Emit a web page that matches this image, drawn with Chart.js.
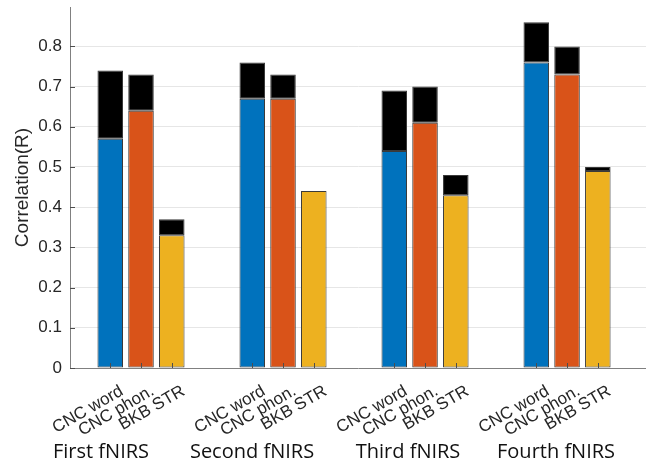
<!DOCTYPE html>
<html>
<head>
<meta charset="utf-8">
<script src="https://cdn.jsdelivr.net/npm/chart.js@4.4.1/dist/chart.umd.min.js"></script>
<style>
  html, body { margin: 0; padding: 0; background: #fff; }
  #wrap { width: 646px; height: 465px; }
</style>
</head>
<body>
<div id="wrap"><canvas id="chart"></canvas></div>
<script>
// values
const groups = ['First fNIRS', 'Second fNIRS', 'Third fNIRS', 'Fourth fNIRS'];
const measures = ['CNC word', 'CNC phon.', 'BKB STR'];

const cncWordBase = [0.57, 0.67, 0.54, 0.76];
const cncWordGain = [0.17, 0.09, 0.15, 0.10];
const cncPhonBase = [0.64, 0.67, 0.61, 0.73];
const cncPhonGain = [0.09, 0.06, 0.09, 0.07];
const bkbStrBase = [0.33, 0.44, 0.43, 0.49];
const bkbStrGain = [0.04, 0.00, 0.05, 0.01];

const yTickValues = [0, 0.1, 0.2, 0.3, 0.4, 0.5, 0.6, 0.7, 0.8];

// layout / style
const colors = ['#0072BD', '#D95319', '#EDB120'];
const groupLabelShift = [-40, -31, -17, -11];
const axisColor = '#808080';
const textColor = '#262626';

function points(arr) {
    return arr.map((v, i) => ({ x: i, y: v }));
}

function barSet(label, values, color, stack) {
    return {
        label: label,
        data: points(values),
        backgroundColor: color,
        borderColor: '#3a3a3a',
        borderWidth: 1,
        borderSkipped: false,
        stack: stack
    };
}

const datasets = [
    barSet(measures[0], cncWordBase, colors[0], 'word'),
    barSet(measures[0] + ' gain', cncWordGain, '#000000', 'word'),
    barSet(measures[1], cncPhonBase, colors[1], 'phon'),
    barSet(measures[1] + ' gain', cncPhonGain, '#000000', 'phon'),
    barSet(measures[2], bkbStrBase, colors[2], 'str'),
    barSet(measures[2] + ' gain', bkbStrGain, '#000000', 'str')
];

// inward tick marks, rotated measure labels and group names
const axisDecor = {
    id: 'axisDecor',
    afterDatasetsDraw(chart) {
        const { ctx, chartArea, scales } = chart;
        ctx.save();
        ctx.strokeStyle = '#4d4d4d';
        ctx.lineWidth = 1;
        [0, 2, 4].forEach(d => {
            chart.getDatasetMeta(d).data.forEach(bar => {
                const x = Math.round(bar.x) + 0.5;
                ctx.beginPath();
                ctx.moveTo(x, chartArea.bottom);
                ctx.lineTo(x, chartArea.bottom - 5);
                ctx.stroke();
            });
        });
        scales.y.ticks.forEach(t => {
            const y = Math.round(scales.y.getPixelForValue(t.value)) + 0.5;
            ctx.beginPath();
            ctx.moveTo(chartArea.left, y);
            ctx.lineTo(chartArea.left + 5, y);
            ctx.stroke();
        });
        ctx.restore();
    },
    afterDraw(chart) {
        const { ctx, chartArea, scales } = chart;
        ctx.save();
        ctx.fillStyle = textColor;
        ctx.font = '17px "Liberation Sans", Arial, sans-serif';
        ctx.textAlign = 'right';
        ctx.textBaseline = 'alphabetic';
        measures.forEach((m, k) => {
            chart.getDatasetMeta(k * 2).data.forEach(bar => {
                ctx.save();
                ctx.translate(bar.x + 14, chartArea.bottom + 26);
                ctx.rotate(-Math.PI / 6);
                ctx.fillText(m, 0, 0);
                ctx.restore();
            });
        });
        ctx.fillStyle = '#111111';
        ctx.font = '20px "Open Sans", sans-serif';
        ctx.textAlign = 'center';
        groups.forEach((g, i) => {
            ctx.fillText(g, scales.x.getPixelForValue(i) + groupLabelShift[i], chartArea.bottom + 90);
        });
        ctx.restore();
    }
};

new Chart(document.getElementById('chart'), {
    type: 'bar',
    data: { datasets: datasets },
    options: {
        responsive: true,
        maintainAspectRatio: false,
        animation: false,
        categoryPercentage: 0.65,
        barPercentage: 0.83,
        layout: { padding: { top: 7, right: 0, bottom: 0, left: 0 } },
        plugins: {
            legend: { display: false },
            tooltip: { enabled: false }
        },
        scales: {
            x: {
                type: 'linear',
                stacked: true,
                offset: false,
                min: -0.5,
                max: 3.556,
                afterBuildTicks: scale => {
                    scale.ticks = groups.map((g, i) => ({ value: i }));
                },
                ticks: { display: false },
                grid: { display: false },
                border: { display: true, color: axisColor },
                afterFit: scale => {
                    scale.height = 97;
                    scale.paddingLeft = 0;
                    scale.paddingRight = 0;
                }
            },
            y: {
                stacked: true,
                min: 0,
                max: 0.898,
                afterBuildTicks: scale => {
                    scale.ticks = yTickValues.map(v => ({ value: v }));
                },
                ticks: {
                    color: textColor,
                    padding: 8,
                    font: { family: '"Liberation Sans", Arial, sans-serif', size: 17 }
                },
                grid: { color: '#e6e6e6', drawTicks: false },
                border: { color: axisColor },
                title: {
                    display: true,
                    text: 'Correlation(R)',
                    color: textColor,
                    padding: { top: 11, bottom: 0 },
                    font: { family: '"Liberation Sans", Arial, sans-serif', size: 19 }
                },
                afterFit: scale => {
                    scale.width = 70;
                    scale.paddingTop = 0;
                    scale.paddingBottom = 0;
                }
            }
        }
    },
    plugins: [axisDecor]
});
</script>
</body>
</html>
